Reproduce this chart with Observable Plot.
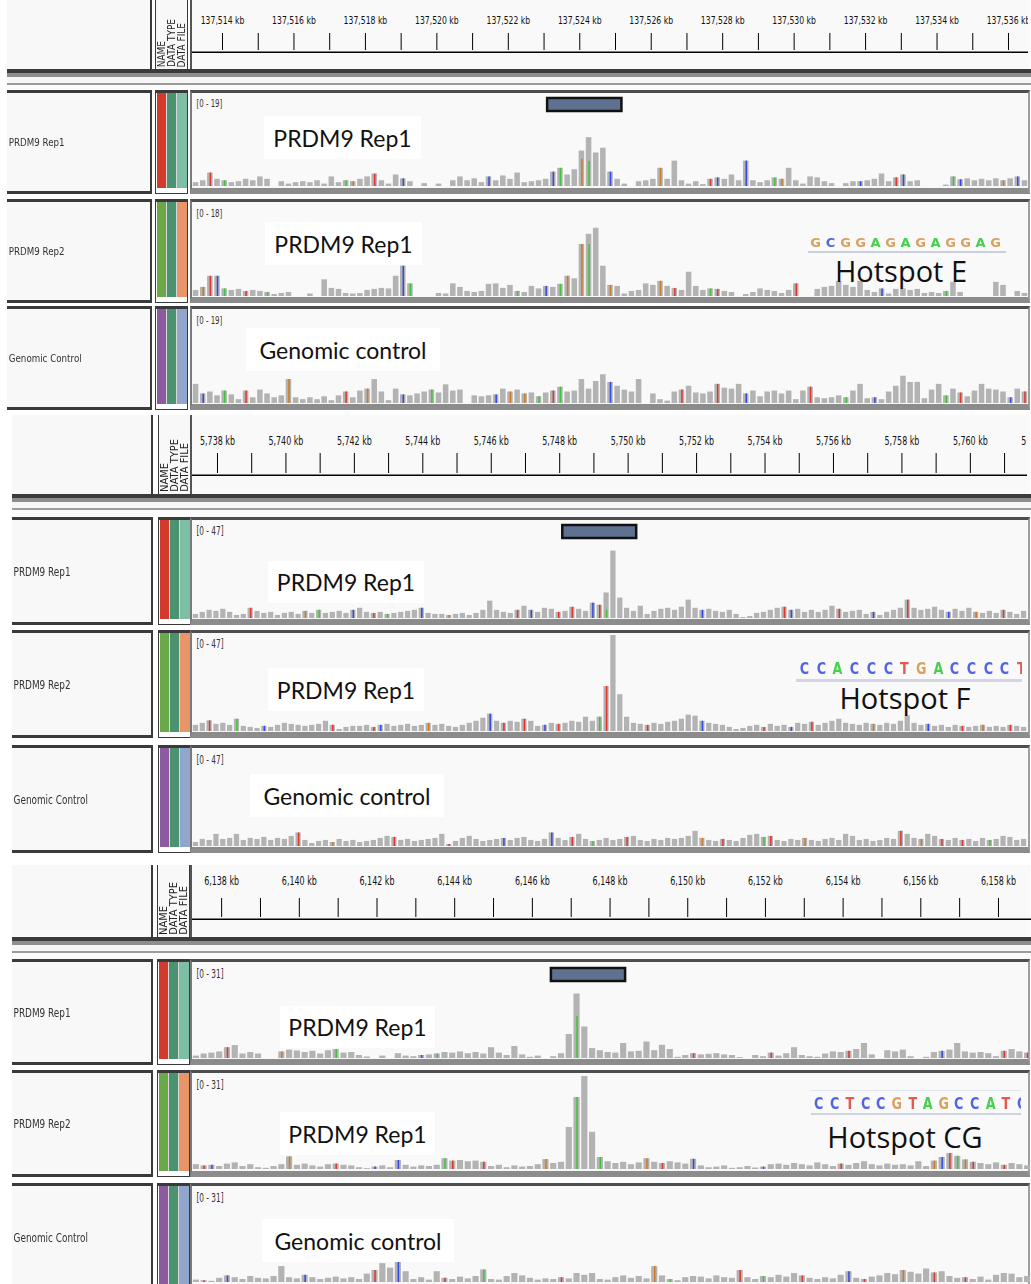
<!DOCTYPE html>
<html>
<head>
<meta charset="utf-8">
<script src="https://cdn.jsdelivr.net/npm/d3@7"></script>
<script src="https://cdn.jsdelivr.net/npm/@observablehq/plot@0.6"></script>
<style>
  body { margin: 0; background: #fff; }
  #view { position: relative; width: 1031px; height: 1284px; overflow: hidden; background: #fff; }
  #view div { box-sizing: border-box; }
</style>
</head>
<body>
<div id="view"></div>
<script>
// ---- coverage data: one value per 0.2 kb bin (reads), three loci × three tracks ----
const BIN = 0.2;

// Locus 1 (chr ~137.5 Mb), window start in kb
const p1Start = 137513.16;
const p1Range = [19, 18, 19];
const p1Rep1 = [0.8,1.2,2.8,1.5,1.2,0.8,1.0,1.5,1.2,2.0, 1.5,0,1.0,0.5,0.8,1.0,0.8,1.2,0.5,2.0, 0.8,1.2,1.0,1.5,2.0,2.6,1.2,0.5,2.4,1.6, 1.0,0,0.6,0,0.5,0,1.2,2.0,1.2,1.6, 0.8,2.0,1.2,2.2,1.5,2.8,0.8,1.0,1.2,1.5, 3.0,3.8,2.4,3.5,7.4,10.2,7.0,8.0,3.0,1.5, 0.5,0,1.0,1.2,1.5,3.8,1.5,5.3,1.2,0.5, 1.0,0.4,1.5,1.8,1.5,2.4,1.2,5.3,1.2,0.8, 1.2,1.8,1.5,3.8,1.2,0.5,2.0,1.8,1.0,0.6, 0,0.6,1.0,1.0,1.2,1.5,2.6,1.0,1.8,2.4, 1.0,1.2,0,0,0,0.3,2.0,1.4,1.6,1.2, 1.5,1.2,1.6,1.2,1.6,2.0,1.2];
const p1Rep2 = [1.2,1.8,4.0,4.0,1.5,1.2,1.4,1.0,1.2,1.0, 0.8,0.4,0.6,0.8,0,0,0.5,0,3.3,1.6, 1.4,0.6,0.5,0.6,1.2,1.4,1.6,1.5,4.0,6.0, 2.5,0,0,0,0.6,0.5,2.5,1.8,1.0,0.8, 1.0,2.4,2.5,1.6,2.2,1.0,0.8,2.0,1.5,2.0, 1.8,2.4,4.0,3.5,10.3,12.3,13.5,6.0,2.2,2.0, 0.5,1.0,1.2,2.5,2.2,3.0,2.0,1.6,1.2,4.8, 2.0,1.2,1.5,1.4,1.0,0.8,0,0.4,0.8,1.5, 1.2,1.0,0.6,1.2,2.5,0,0,1.4,1.8,2.0, 3.0,2.2,1.8,3.0,1.2,0.8,1.5,0.5,1.4,1.5, 1.2,1.4,0.6,0.8,0.6,1.0,2.8,0.8,0,0, 0,0,2.8,2.2,0,1.0,0.6];
const p1Ctrl = [4.0,2.0,2.4,1.6,2.6,1.8,0.8,2.6,1.2,2.8, 2.0,1.2,1.6,5.0,1.2,0.8,1.2,0.8,1.4,0.6, 1.6,2.4,1.2,2.6,3.0,5.0,2.4,0.6,3.0,1.8, 1.6,2.0,2.4,2.8,2.2,3.9,2.6,2.8,0,1.6, 1.4,1.6,1.8,3.0,2.4,2.8,2.0,2.2,1.4,2.2, 2.6,3.4,2.4,2.6,5.0,3.0,4.6,6.0,4.4,3.6, 2.8,2.4,5.0,0,2.0,0.8,0.5,2.4,2.8,3.6, 2.2,2.0,2.4,4.0,3.2,3.0,4.0,2.0,2.6,1.4, 2.4,2.6,2.0,2.6,0.8,2.6,3.4,1.2,1.0,1.2, 1.6,1.2,2.6,4.0,1.0,1.2,0.8,2.4,3.6,5.7, 4.4,4.4,1.0,2.8,4.0,1.6,3.0,2.2,1.4,2.6, 4.0,3.0,2.8,2.4,1.2,3.0,2.4];
// mismatching bases: [bin index, base, allele depth (defaults to bin coverage)]
const p1Rep1Alt = [[2,"T"],[4,"A"],[21,"A"],[22,"G"],[25,"T"],[29,"C"],[41,"C"],[50,"C"],[51,"A"],[54,"G",5.7],[55,"A",5.2],[58,"C"],[65,"G"],[72,"T"],[73,"C"],[77,"C"],[81,"A"],[82,"G"],[93,"C"],[98,"T"],[99,"C"],[106,"A"],[107,"C"],[113,"G"],[115,"C"]];
const p1Rep2Alt = [[1,"G"],[2,"T"],[3,"C"],[4,"A"],[7,"T"],[10,"A"],[29,"C"],[30,"A"],[45,"A"],[49,"C"],[51,"A"],[52,"G"],[54,"G"],[55,"A",10.3],[58,"G"],[65,"G"],[67,"T"],[72,"A"],[73,"T"],[84,"T"],[96,"C"],[105,"A"]];
const p1CtrlAlt = [[1,"C"],[4,"A"],[7,"T"],[13,"G"],[21,"T"],[24,"G"],[29,"C"],[33,"A"],[42,"C"],[44,"G"],[46,"G"],[48,"A"],[50,"T"],[51,"A"],[58,"C"],[68,"T"],[73,"T"],[77,"C"],[86,"T"],[91,"A"],[95,"C"],[105,"A"],[107,"T"],[114,"C"],[116,"T"]];
const p1Hotspot = [137523.1, 137525.18];
const p1MinorTicks = [137514,137515,137516,137517,137518,137519,137520,137521,137522,137523,137524,137525,137526,137527,137528,137529,137530,137531,137532,137533,137534,137535,137536];
const p1TickLabels = [137514,137516,137518,137520,137522,137524,137526,137528,137530,137532,137534,137536];

// Locus 2 (chr ~5.7 Mb)
const p2Start = 5737.27;
const p2Range = [47, 47, 47];
const p2Rep1 = [2,3,4,3.5,4.5,3,1.5,2,5,3.5, 2.5,3,1.5,2.5,3,2,3.5,2.5,4,2.5, 3,3.5,2.5,4,5,3,2.5,3,2,2.5, 3,3.5,4,5,2.5,2,2,1.5,2,2.5, 1.5,2.5,4,8.5,4,3,2.5,4,6,4, 3,5,4.5,3,3.5,5.5,4.5,3.5,7.5,6.5, 12.5,33,10,5,3.5,6,2,3.5,4.5,5, 4,5.5,9,5,4,4.5,3.5,3,4,2, 0.5,1,2.5,3,4,5,5.5,4,4.5,3, 4,3,4,6,4.5,3,3.5,4,2,3, 1.5,3,4,5,9,5,4,4.5,5.5,4, 3,4.5,3.5,5,3,2.5,3.5,2.5,4,3, 2,3.5];
const p2Rep2 = [3,4,5.2,3.5,4,3,6,2.5,2,1.5, 2.5,2,3,4,3.5,3,2.5,3,3.5,5, 3,1,2,2.5,2.5,3,2,3,3.5,2.5, 3,3.5,2.5,3,4,3,3.5,2.5,2,3, 4,5,6.5,8.5,5,4,5,4.5,6,5, 2.5,3,4,3.5,4,5,4.5,7,5,7, 22,47,18,7,4,3.5,3,4,3.5,4.5, 5,6,8,7.5,5,4,3.5,3,2,1, 1.5,2.5,3,2,3.5,2.5,3,2,4,3.5, 4.5,3,4,5,6,4,3.5,3,4,3.5, 3,4,3.5,5,7.7,4,3,3.5,2.5,3, 2,3,2.5,2,2.5,3,2,2.5,2,3, 2.5,2];
const p2Ctrl = [2,3.5,3,6,3.5,4,6,3,4,3.5, 4.5,3,4,3.5,5,6.7,3,1.5,2.5,3, 2,3.5,2.5,3,2,2.5,3,4,5,4.5, 3,3.5,2.5,3,3.5,4,6,1,2.5,4, 5,3.5,2.5,3,3.5,4,3,4,4.5,3, 2.5,3.5,6.7,4,3,4.5,6,3.5,2.5,3, 4,3,3.5,4.5,5,3,2.5,3.5,3,4, 3.5,4,5,7.5,4,3,2.5,3.5,3,2.5, 4,5.5,6,4.5,5,3,2.5,3.5,3,4, 3,2.5,3.5,4,3,6,5,3,3.5,2.5, 3,4,3.5,7.5,6,4,3.5,6,5,3.5, 3,4,3,3.5,2.5,4,3,3.5,5,4.5, 3,3.5];
const p2Rep1Alt = [[8,"T"],[16,"G"],[18,"A"],[23,"C"],[26,"T"],[28,"A"],[33,"C"],[37,"G"],[47,"T"],[49,"C"],[53,"T"],[55,"T"],[58,"C"],[59,"T"],[60,"A",4],[74,"C"],[86,"T"],[87,"C"],[94,"T"],[99,"C"],[104,"T"],[110,"C"],[114,"G"],[118,"T"]];
const p2Rep2Alt = [[2,"T"],[6,"A"],[10,"C"],[20,"T"],[26,"T"],[27,"C"],[34,"G"],[43,"C"],[45,"T"],[48,"T"],[51,"C"],[53,"T"],[59,"A"],[60,"T"],[66,"T"],[74,"C"],[83,"T"],[87,"C"],[90,"T"],[99,"G"],[107,"C"],[112,"T"],[115,"G"],[119,"T"]];
const p2CtrlAlt = [[15,"T"],[20,"G"],[29,"T"],[37,"T"],[45,"C"],[52,"C"],[55,"T"],[58,"A"],[63,"T"],[74,"G"],[77,"T"],[83,"A"],[84,"T"],[89,"G"],[103,"T"],[106,"G"],[109,"T"],[112,"T"],[116,"A"]];
const p2Hotspot = [5748.09, 5750.25];
const p2MinorTicks = [5738,5739,5740,5741,5742,5743,5744,5745,5746,5747,5748,5749,5750,5751,5752,5753,5754,5755,5756,5757,5758,5759,5760,5761];
const p2TickLabels = [5738,5740,5742,5744,5746,5748,5750,5752,5754,5756,5758,5760,5762];

// Locus 3 (chr ~6.1 Mb)
const p3Start = 6137.25;
const p3Range = [31, 31, 31];
const p3Rep1 = [0.8,1.5,1.8,2.2,3.6,4.3,1.5,2.0,1.5,0, 0,2.2,2.8,2.5,2.0,2.4,1.5,2.6,3.0,1.8, 2.0,1.0,0.5,0,0.8,0,1.6,0.8,0.6,1.0, 1.2,1.5,2.0,1.8,2.2,1.6,2.0,1.5,3.6,1.8, 1.0,4.0,1.2,0.4,0.8,0,0.6,1.6,8.0,21.5, 10.5,3.3,2.6,2.0,1.8,5.0,2.2,2.4,5.5,2.6, 4.4,3.0,0.4,1.0,1.6,1.2,1.4,1.6,1.2,1.0, 0.3,0,1.0,0.6,1.8,0.8,1.6,3.6,1.0,0.6, 0.4,1.5,2.2,2.0,2.4,3.0,5.0,1.2,0,2.6, 2.2,2.8,0.6,0,0.4,2.0,2.4,2.8,5.0,2.2, 1.8,2.0,1.6,0.6,2.4,3.0,2.2,1.8];
const p3Rep2 = [1.6,1.2,1.4,1.0,1.8,2.2,1.0,1.6,0.6,0.4, 1.0,1.6,4.2,1.4,1.8,1.2,0.8,1.6,1.8,1.4, 1.2,0.6,0.3,0.8,1.2,0.6,3.0,1.4,0.8,1.2, 1.0,1.4,3.6,2.8,3.0,2.6,2.8,2.4,1.0,1.4, 0.6,1.2,0.8,1.0,1.6,3.3,2.0,2.4,14,24, 31,12.4,4.0,2.6,2.0,2.4,1.6,2.2,3.6,2.4, 2.0,2.6,2.2,1.8,3.4,1.2,0.6,0.8,1.2,0.4, 0.6,1.0,0.5,0.8,1.6,1.8,1.4,2.0,1.6,1.2, 2.2,1.6,1.0,1.8,1.4,2.0,2.6,1.6,1.2,1.8, 1.4,1.6,1.2,2.6,1.0,2.8,4.0,5.3,4.4,3.2, 2.4,2.0,1.6,2.2,1.4,2.0,1.6,1.2];
const p3Ctrl = [0.8,0.6,0.4,1.4,2.2,1.6,1.0,2.0,1.4,1.2, 2.0,5.3,1.6,1.2,2.4,1.6,1.0,1.4,1.8,1.2, 1.6,1.0,2.8,4.0,6.3,4.8,7.0,3.6,1.0,1.6, 0.8,3.6,1.4,1.0,1.8,1.2,2.0,4.2,1.0,0.8, 2.0,3.0,2.2,1.4,0.8,1.2,1.0,1.6,1.2,3.0, 2.4,3.0,1.0,0.8,1.6,2.2,1.4,2.0,1.2,5.3, 2.2,1.0,0.6,1.6,2.0,1.8,1.2,2.2,1.6,1.4, 4.0,1.6,1.0,2.0,1.6,2.4,1.8,3.0,2.2,1.4, 1.0,1.6,1.2,2.4,3.6,1.4,1.0,1.8,2.2,3.0, 2.6,4.0,3.4,2.8,4.5,3.2,3.6,2.0,1.4,1.6, 1.0,1.8,0.8,2.4,3.0,2.8,1.6,2.0];
const p3Rep1Alt = [[4,"T"],[11,"G"],[18,"A"],[29,"C"],[31,"A"],[49,"A",14],[64,"T"],[74,"T"],[84,"T"],[96,"C"],[104,"T"],[107,"T"]];
const p3Rep2Alt = [[1,"T"],[2,"C"],[12,"G"],[18,"T"],[23,"C"],[26,"C"],[32,"A"],[33,"T"],[37,"T"],[45,"G"],[49,"A"],[52,"A"],[58,"G"],[60,"T"],[64,"C"],[73,"C"],[83,"T"],[95,"G"],[96,"C"],[97,"T"],[98,"A"],[99,"G"],[100,"T"],[104,"T"]];
const p3CtrlAlt = [[1,"T"],[4,"C"],[14,"C"],[23,"T"],[26,"C"],[32,"T"],[37,"A"],[47,"T"],[59,"G"],[61,"A"],[70,"T"],[73,"A"],[78,"T"],[84,"C"],[86,"T"],[91,"G"],[95,"T"],[99,"T"]];
const p3Hotspot = [6146.49, 6148.40];
const p3MinorTicks = [6138,6139,6140,6141,6142,6143,6144,6145,6146,6147,6148,6149,6150,6151,6152,6153,6154,6155,6156,6157,6158];
const p3TickLabels = [6138,6140,6142,6144,6146,6148,6150,6152,6154,6156,6158];

// ---- text ----
const trackNames = ["PRDM9 Rep1", "PRDM9 Rep2", "Genomic Control"];
const overlayLabels = ["PRDM9 Rep1", "PRDM9 Rep1", "Genomic control"];
const hotspotNames = ["Hotspot E", "Hotspot F", "Hotspot CG"];
const motifs = ["GCGGAGAGAGGAG", "CCACCCTGACCCCT", "CCTCCGTAGCCATC"];
const attrHeaders = ["NAME", "DATA TYPE", "DATA FILE"];

// ---- styling ----
const NARROW = "'Liberation Sans Narrow','DejaVu Sans Condensed','Arial Narrow','Liberation Sans',sans-serif";
const baseColors = {A: "#3ec43a", C: "#3149e6", G: "#cf7a24", T: "#e2342c"};
const motifColors = {A: "#48cf4f", C: "#5064e8", G: "#d8a15f", T: "#e35a50"};
const attrColors = [
  ["#d23b2b", "#4b9271", "#7dbfa4"],
  ["#6aa84a", "#4b9271", "#e9956a"],
  ["#8b5a9f", "#4b9271", "#90a6cc"]
];

const panels = [
  {
    start: p1Start, series: [p1Rep1, p1Rep2, p1Ctrl], alts: [p1Rep1Alt, p1Rep2Alt, p1CtrlAlt],
    range: p1Range, hotspot: p1Hotspot, minor: p1MinorTicks, labels: p1TickLabels,
    motif: motifs[0], hotspotName: hotspotNames[0],
    ruler: {top: 0, height: 53, frameTop: 33, pad: 10, font: 11, squeeze: 0.78},
    divider: 69, nameLeft: 7, nameRight: 152, attrLeft: 155, width: 836,
    tracks: [
      {top: 90, plotTop: 95, plotH: 91, bottom: 194},
      {top: 199, plotTop: 205, plotH: 91, bottom: 303},
      {top: 306, plotTop: 312, plotH: 91, bottom: 410}
    ],
    boxes: [[264, 116, 157, 43], [265, 222, 157, 43], [246, 328, 194, 43]],
    motifBox: {left: 808, top: 234, cell: 15, size: 13, width: 198, lines: [[251, 2, "#c9cee0"]]},
    hotspotAt: [901, 270],
    nameFont: 11, nameScale: 0.88, rangeFont: 10
  },
  {
    start: p2Start, series: [p2Rep1, p2Rep2, p2Ctrl], alts: [p2Rep1Alt, p2Rep2Alt, p2CtrlAlt],
    range: p2Range, hotspot: p2Hotspot, minor: p2MinorTicks, labels: p2TickLabels,
    motif: motifs[1], hotspotName: hotspotNames[1],
    ruler: {top: 415, height: 61, frameTop: 38, pad: 9, font: 13, squeeze: 0.68},
    divider: 494, nameLeft: 12, nameRight: 153, attrLeft: 158, width: 835,
    tracks: [
      {top: 517, plotTop: 522, plotH: 96, bottom: 625},
      {top: 630, plotTop: 635, plotH: 96, bottom: 738},
      {top: 745, plotTop: 751, plotH: 95, bottom: 853}
    ],
    boxes: [[268, 561, 156, 42], [268, 668, 156, 43], [250, 774, 194, 43]],
    motifBox: {left: 796, top: 659, cell: 16.7, size: 15, width: 226, lines: [[679, 3, "#d3d6e1"]]},
    hotspotAt: [905, 697],
    nameFont: 13, nameScale: 0.76, rangeFont: 12
  },
  {
    start: p3Start, series: [p3Rep1, p3Rep2, p3Ctrl], alts: [p3Rep1Alt, p3Rep2Alt, p3CtrlAlt],
    range: p3Range, hotspot: p3Hotspot, minor: p3MinorTicks, labels: p3TickLabels,
    motif: motifs[2], hotspotName: hotspotNames[2],
    ruler: {top: 865, height: 55, frameTop: 33, pad: 14, font: 13, squeeze: 0.68},
    divider: 937, nameLeft: 12, nameRight: 153, attrLeft: 157, width: 839,
    tracks: [
      {top: 959, plotTop: 965, plotH: 93, bottom: 1065},
      {top: 1070, plotTop: 1076, plotH: 93, bottom: 1177},
      {top: 1183, plotTop: 1189, plotH: 93, bottom: 1292}
    ],
    boxes: [[280, 1006, 155, 42], [280, 1112, 155, 43], [262, 1219, 192, 43]],
    motifBox: {left: 811, top: 1094, cell: 15.6, size: 15, width: 210, lines: [[1090, 1, "#e2e4ec"], [1113, 2, "#cfd3df"]]},
    hotspotAt: [905, 1136],
    nameFont: 13, nameScale: 0.76, rangeFont: 12
  }
];

// ---- helpers ----
const view = document.getElementById("view");
const px = v => v + "px";
function el(tag, css, parent = view, text) {
  const e = document.createElement(tag);
  Object.assign(e.style, css);
  if (text != null) e.textContent = text;
  parent.appendChild(e);
  return e;
}
function box(l, t, w, h, css = {}, parent = view) {
  return el("div", {position: "absolute", left: px(l), top: px(t), width: px(w), height: px(h), ...css}, parent);
}
// narrow every text of an svg horizontally about its own anchor point
function squeezeText(svg, k) {
  svg.querySelectorAll("text").forEach(t => {
    const x = +(t.getAttribute("x") || 0);
    const tr = t.getAttribute("transform") || "";
    t.setAttribute("transform", `${tr} translate(${x},0) scale(${k},1) translate(${-x},0)`);
  });
  return svg;
}

// coverage histogram for one track
function coveragePlot(values, alts, start, max, hotspot, W, H, rangeFont, squeeze) {
  const bins = values.map((v, i) => ({x1: start + i * BIN, x2: start + (i + 1) * BIN, v}));
  const altBars = alts.map(([i, base, depth]) => ({x: start + (i + 0.5) * BIN, v: depth ?? values[i], base}));
  const marks = [
    Plot.rect(bins, {x1: "x1", x2: "x2", y1: () => 0, y2: "v", fill: "#b3b3b3", insetLeft: 0.8, insetRight: 0.8})
  ];
  for (const b of Object.keys(baseColors)) {
    marks.push(Plot.ruleX(altBars.filter(d => d.base === b), {x: "x", y1: () => 0, y2: "v", stroke: baseColors[b], strokeWidth: 1.5}));
  }
  marks.push(Plot.text([`[0 - ${max}]`], {text: d => d, frameAnchor: "top-left", dx: 4, dy: 4, lineAnchor: "top", textAnchor: "start", fontSize: rangeFont, fill: "#333"}));
  if (hotspot) {
    marks.push(Plot.rect([hotspot], {x1: d => d[0], x2: d => d[1], fill: "#5e7190", stroke: "#111", strokeWidth: 2.5, insetTop: 3, insetBottom: H - 16}));
  }
  const svg = Plot.plot({
    width: W, height: H, margin: 0,
    x: {domain: [start, start + values.length * BIN], axis: null},
    y: {domain: [0, max], axis: null},
    style: {background: "transparent", fontFamily: NARROW, overflow: "hidden"},
    marks
  });
  return squeezeText(svg, squeeze);
}

// genomic ruler with kb labels
function rulerPlot(P, end) {
  const R = P.ruler;
  const svg = Plot.plot({
    width: P.width, height: R.height, marginTop: R.frameTop, marginBottom: 1, marginLeft: 0, marginRight: 0,
    x: {domain: [P.start, end], axis: "top", ticks: P.labels, tickSize: 0, tickPadding: R.pad,
        tickFormat: d => d3.format(",")(d) + " kb", label: null},
    y: {domain: [0, 1], axis: null},
    style: {background: "transparent", fontSize: px(R.font), fontFamily: NARROW, color: "#111", overflow: "hidden"},
    marks: [
      Plot.tickX(P.minor, {x: d => d, stroke: "#000", strokeWidth: 1, insetBottom: 2}),
      Plot.ruleY([0], {stroke: "#000", strokeWidth: 2})
    ]
  });
  return squeezeText(svg, R.squeeze);
}

// ---- build ----
panels.forEach((P, pi) => {
  const nBins = P.series[0].length;
  const end = P.start + nBins * BIN;
  const R = P.ruler;

  // ruler row
  box(P.nameLeft, R.top, P.nameRight - P.nameLeft, P.divider - R.top, {background: "#f8f8f8", borderRight: "2px solid #3a3a3a"});
  const hdr = box(P.attrLeft, R.top, 33, P.divider - R.top, {background: "#f8f8f8", borderLeft: "1px solid #3a3a3a", borderRight: "1px solid #3a3a3a", overflow: "hidden"});
  attrHeaders.forEach((t, k) => {
    el("div", {position: "absolute", left: px(1 + k * 10), bottom: "2px", width: "10px", writingMode: "vertical-rl",
      transform: "rotate(180deg)", fontSize: px(pi === 0 ? 10 : 11), lineHeight: "10px", fontFamily: NARROW, color: "#222", whiteSpace: "nowrap"}, hdr, t);
  });
  box(190, R.top, 840, P.divider - R.top, {background: "#f9f9f9", borderLeft: "2px solid #555"});
  const rw = box(192, R.top, P.width, R.height, {overflow: "hidden"});
  rw.appendChild(rulerPlot(P, end));

  // panel divider bands
  const d = P.divider;
  box(P.nameLeft, d, 1031 - P.nameLeft, 4, {background: "#3b3b3b"});
  box(P.nameLeft, d + 4, 1031 - P.nameLeft, 4, {background: "#8e8e8e"});
  box(P.nameLeft, d + 8, 1031 - P.nameLeft, 6, {background: "#f6f6f6"});
  box(P.nameLeft, d + 14, 1031 - P.nameLeft, 2, {background: "#9c9c9c"});
  box(P.nameLeft, d + 16, 1031 - P.nameLeft, P.tracks[0].top - d - 16, {background: "#fbfbfb"});

  // tracks
  P.tracks.forEach((t, ti) => {
    const h = t.bottom - t.top;
    const name = box(P.nameLeft, t.top, P.nameRight - P.nameLeft, h, {background: "#f8f8f8",
      borderTop: "3px solid #3a3a3a", borderBottom: "3px solid #3a3a3a", borderRight: "2px solid #3a3a3a",
      display: "flex", alignItems: "center"});
    el("div", {fontFamily: NARROW, fontSize: px(P.nameFont), color: "#333", whiteSpace: "nowrap",
      transform: `scaleX(${P.nameScale})`, transformOrigin: "left center", paddingLeft: "2px"}, name, trackNames[ti]);

    const attr = box(P.attrLeft, t.top, 33, h, {background: "#fff", border: "1px solid #3a3a3a", borderTopWidth: "3px"});
    attrColors[ti].forEach((c, k) => {
      box(1 + k * 10, 0, 10, h - 9, {background: c, borderRight: k < 2 ? "1px solid #d8d8d8" : "none"}, attr);
    });

    box(190, t.top, 840, h, {background: "#f9f9f9", borderTop: "3px solid #4e4e4e", borderBottom: "6px solid #8c8c8c",
      borderLeft: "2px solid #7a7a7a", borderRight: "2px solid #a0a0a0"});
    const pw = box(192, t.plotTop, P.width, t.plotH, {overflow: "hidden"});
    pw.appendChild(coveragePlot(P.series[ti], P.alts[ti], P.start, P.range[ti], ti === 0 ? P.hotspot : null,
      P.width, t.plotH, P.rangeFont, R.squeeze));

    // caption box over the track
    const [bx, by, bw, bh] = P.boxes[ti];
    const cap = box(bx, by, bw, bh, {background: "#fff", display: "flex", alignItems: "center", justifyContent: "center"});
    el("div", {fontFamily: "Lato, 'Open Sans', sans-serif", fontSize: "23px", color: "#111", whiteSpace: "nowrap"}, cap, overlayLabels[ti]);
  });

  // motif logo and hotspot name on the second track
  const M = P.motifBox;
  const mw = box(M.left, M.top, M.width, M.size + 4, {overflow: "hidden", whiteSpace: "nowrap", filter: "blur(0.3px)"});
  [...P.motif].forEach((ch, k) => {
    box(k * M.cell, 0, M.cell, M.size + 4, {display: "flex", justifyContent: "center", alignItems: "center",
      fontFamily: "'DejaVu Sans', sans-serif", fontWeight: "bold", fontSize: px(M.size), color: motifColors[ch],
      transform: pi === 0 ? "none" : "scaleX(0.85)"}, mw).textContent = ch;
  });
  M.lines.forEach(([y, w, c]) => box(M.left, y, M.width, w, {background: c}));
  const [hx, hy] = P.hotspotAt;
  el("div", {position: "absolute", left: px(hx), top: px(hy), transform: "translate(-50%,-50%)",
    fontFamily: "'Open Sans', 'Noto Sans', sans-serif", fontSize: "29px", color: "#111", whiteSpace: "nowrap"}, view, P.hotspotName);
});
</script>
</body>
</html>
